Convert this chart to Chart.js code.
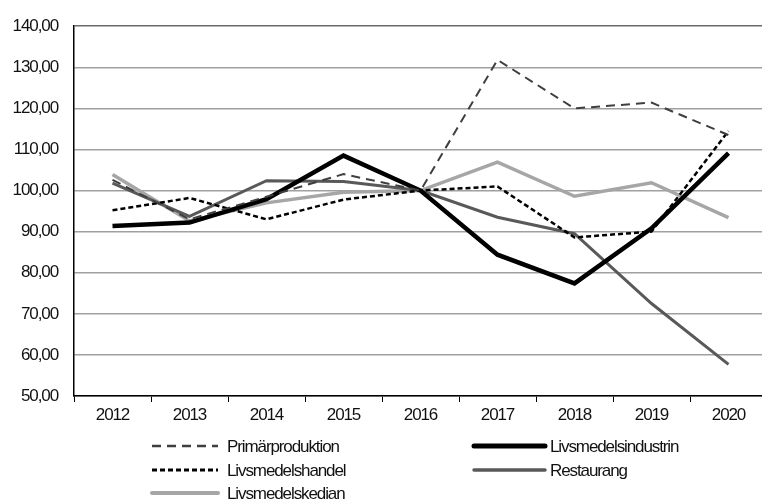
<!DOCTYPE html>
<html>
<head>
<meta charset="utf-8">
<script src="https://cdn.jsdelivr.net/npm/chart.js@4/dist/chart.umd.min.js"></script>
<style>
  html, body { margin: 0; padding: 0; background: #fff; overflow: hidden; }
  #wrap { width: 767px; height: 499px; position: relative; }
</style>
</head>
<body>
<div id="wrap"><canvas id="chart"></canvas></div>
<script>
const years = ['2012', '2013', '2014', '2015', '2016', '2017', '2018', '2019', '2020'];
const primarproduktion = [102.6, 93.0, 98.5, 104.0, 100.0, 131.8, 120.0, 121.4, 113.5];
const livsmedelsindustrin = [91.4, 92.2, 97.9, 108.5, 100.0, 84.4, 77.4, 90.8, 109.1];
const livsmedelshandel = [95.2, 98.2, 93.0, 97.8, 100.0, 101.0, 88.6, 90.0, 114.5];
const restaurang = [101.8, 93.7, 102.4, 102.2, 100.0, 93.5, 89.5, 72.5, 57.7];
const livsmedelskedjan = [103.9, 92.6, 97.0, 99.6, 100.0, 106.9, 98.6, 101.9, 93.4];

const FONT = '"Liberation Sans", Arial, sans-serif';
const TICKFONT = { size: 17, family: FONT };
const SPACING = '-1.1px';

// legend slots: [dataset index, line x start, line x end, text x, y]
const legendSlots = [
  [0, 152, 218, 227, 446],
  [1, 474, 545, 550, 446],
  [2, 152, 218, 227, 470],
  [3, 474, 545, 550, 470],
  [4, 152, 218, 227, 493]
];

// tighter letters, the original uses a condensed face
const narrowText = {
  id: 'narrowText',
  beforeLayout(chart) { chart.ctx.letterSpacing = SPACING; },
  beforeDraw(chart) { chart.ctx.letterSpacing = SPACING; }
};

const legendPlugin = {
  id: 'twoColLegend',
  afterDraw(chart) {
    const ctx = chart.ctx;
    ctx.save();
    ctx.letterSpacing = SPACING;
    ctx.font = '17px ' + FONT;
    ctx.textBaseline = 'middle';
    ctx.fillStyle = '#111';
    legendSlots.forEach(([i, x1, x2, tx, y]) => {
      const ds = chart.data.datasets[i];
      ctx.beginPath();
      ctx.strokeStyle = ds.borderColor;
      ctx.lineWidth = ds.borderWidth + 0.5;
      ctx.lineCap = ds.borderDash ? 'butt' : 'round';
      ctx.setLineDash(ds.borderDash || []);
      ctx.moveTo(x1, y);
      ctx.lineTo(x2, y);
      ctx.stroke();
      ctx.setLineDash([]);
      ctx.fillText(ds.label, tx, y + 1);
    });
    ctx.restore();
  }
};

new Chart(document.getElementById('chart'), {
  type: 'line',
  data: {
    labels: years,
    datasets: [
      { label: 'Primärproduktion', data: primarproduktion, borderColor: '#3f3f3f', borderWidth: 2, borderDash: [9, 6] },
      { label: 'Livsmedelsindustrin', data: livsmedelsindustrin, borderColor: '#000000', borderWidth: 4.5 },
      { label: 'Livsmedelshandel', data: livsmedelshandel, borderColor: '#000000', borderWidth: 2.5, borderDash: [5, 3] },
      { label: 'Restaurang', data: restaurang, borderColor: '#595959', borderWidth: 3 },
      { label: 'Livsmedelskedjan', data: livsmedelskedjan, borderColor: '#a6a6a6', borderWidth: 3.5 }
    ]
  },
  options: {
    responsive: true,
    maintainAspectRatio: false,
    animation: false,
    events: [],
    elements: { point: { radius: 0 }, line: { tension: 0, borderCapStyle: 'butt' } },
    layout: { padding: { top: 24, left: 0, right: 0, bottom: 73 } },
    plugins: { legend: { display: false }, tooltip: { enabled: false } },
    scales: {
      x: {
        offset: true,
        grid: { offset: true, drawOnChartArea: false, drawTicks: true, tickLength: 6, color: '#000', lineWidth: 1 },
        border: { display: true, color: '#000', width: 1.5 },
        ticks: { color: '#111', font: TICKFONT, padding: 3, maxRotation: 0 },
        afterFit(s) { s.height = 30; }
      },
      y: {
        min: 50,
        max: 140,
        ticks: {
          stepSize: 10,
          color: '#111',
          padding: 16,
          font: TICKFONT,
          callback: v => v.toFixed(2).replace('.', ',')
        },
        grid: { drawTicks: false, color: ctx => ctx.tick && ctx.tick.value === 140 ? '#6a6a6a' : '#a0a0a0', lineWidth: 1.5 },
        border: { display: true, color: '#000', width: 1.5 },
        afterFit(s) { s.width = 74; }
      }
    }
  },
  plugins: [narrowText, legendPlugin]
});
</script>
</body>
</html>
